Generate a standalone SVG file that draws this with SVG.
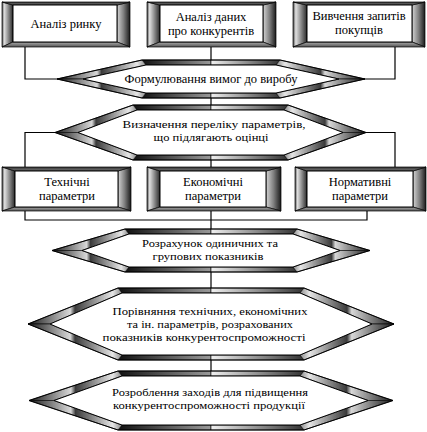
<svg xmlns="http://www.w3.org/2000/svg" width="427" height="432" viewBox="0 0 427 432">
<defs>
<linearGradient id="gBL" x1="0" y1="0" x2="1" y2="0"><stop offset="0" stop-color="#444"/><stop offset="0.2" stop-color="#e0e0e0"/><stop offset="1" stop-color="#2a2a2a"/></linearGradient>
<linearGradient id="gBR" x1="0" y1="0" x2="1" y2="0"><stop offset="0" stop-color="#d4d4d4"/><stop offset="0.5" stop-color="#808080"/><stop offset="1" stop-color="#1a1a1a"/></linearGradient>
<linearGradient id="gBT" x1="0" y1="0" x2="0" y2="1"><stop offset="0" stop-color="#333"/><stop offset="1" stop-color="#777"/></linearGradient>
<linearGradient id="gBB" x1="0" y1="0" x2="0" y2="1"><stop offset="0" stop-color="#aaa"/><stop offset="1" stop-color="#555"/></linearGradient>
<linearGradient id="gSL" x1="0" y1="0" x2="1" y2="0"><stop offset="0" stop-color="#1a1a1a"/><stop offset="0.45" stop-color="#d8d8d8"/><stop offset="0.5" stop-color="#3a3a3a"/><stop offset="0.9" stop-color="#e6e6e6"/><stop offset="1" stop-color="#888"/></linearGradient>
<linearGradient id="gSR" x1="0" y1="0" x2="1" y2="0"><stop offset="0" stop-color="#888"/><stop offset="0.1" stop-color="#e6e6e6"/><stop offset="0.5" stop-color="#3a3a3a"/><stop offset="0.55" stop-color="#d8d8d8"/><stop offset="1" stop-color="#1a1a1a"/></linearGradient>
<linearGradient id="gHL" x1="0" y1="0" x2="1" y2="0"><stop offset="0" stop-color="#111"/><stop offset="1" stop-color="#9a9a9a"/></linearGradient>
<linearGradient id="gHR" x1="0" y1="0" x2="1" y2="0"><stop offset="0" stop-color="#f0f0f0"/><stop offset="1" stop-color="#333"/></linearGradient>
</defs>
<style>
.bl{fill:url(#gBL);stroke:#000;stroke-width:0.7}
.br{fill:url(#gBR);stroke:#000;stroke-width:0.7}
.bt{fill:url(#gBT);stroke:#000;stroke-width:0.7}
.bb{fill:url(#gBB);stroke:#000;stroke-width:0.7}
.in{fill:#fff;stroke:#000;stroke-width:1}
.sl{fill:url(#gSL);stroke:#000;stroke-width:0.6}
.sr{fill:url(#gSR);stroke:#000;stroke-width:0.6}
.hl{fill:url(#gHL);stroke:#000;stroke-width:0.6}
.hr{fill:url(#gHR);stroke:#000;stroke-width:0.6}
.out{fill:none;stroke:#000;stroke-width:1}
.c{fill:none;stroke:#000;stroke-width:1.2}
.t{font-size:12.5px;fill:#000;text-anchor:middle}
.s{font-size:11px;fill:#000;text-anchor:middle}
</style>

<g id="connectors">
<path class="c" d="M25,47 V79 H57"/>
<path class="c" d="M211,47 V60"/>
<path class="c" d="M395,47 V79 H365"/>
<path class="c" d="M211,98 V105"/>
<path class="c" d="M55,132.5 H25 V167"/>
<path class="c" d="M366,132.5 H395 V167"/>
<path class="c" d="M211,160 V167"/>
<path class="c" d="M25,211 V220 H367 V211"/>
<path class="c" d="M211,211 V229"/>
<path class="c" d="M211,272 V288"/>
<path class="c" d="M211,360 V371"/>
</g>

<g font-family="'Liberation Serif', 'DejaVu Serif', serif">
<g id="box-market">
<polygon class="bl" points="2,2 13,5 13,42 2,47"/>
<polygon class="br" points="117,5 130,2 130,47 117,42"/>
<polygon class="bt" points="2,2 130,2 117,5 13,5"/>
<polygon class="bb" points="13,42 117,42 130,47 2,47"/>
<rect class="in" x="13" y="5" width="104" height="37"/>
<text class="t" x="66" y="28">Аналіз ринку</text>
</g>

<g id="box-competitors">
<polygon class="bl" points="147,2 160,5 160,42 147,47"/>
<polygon class="br" points="263,5 276,2 276,47 263,42"/>
<polygon class="bt" points="147,2 276,2 263,5 160,5"/>
<polygon class="bb" points="160,42 263,42 276,47 147,47"/>
<rect class="in" x="160" y="5" width="103" height="37"/>
<text class="t" x="211" y="21">Аналіз даних</text>
<text class="t" x="211" y="35">про конкурентів</text>
</g>

<g id="box-customers">
<polygon class="bl" points="293,2 307,5 307,42 293,47"/>
<polygon class="br" points="412,5 425,2 425,47 412,42"/>
<polygon class="bt" points="293,2 425,2 412,5 307,5"/>
<polygon class="bb" points="307,42 412,42 425,47 293,47"/>
<rect class="in" x="307" y="5" width="105" height="37"/>
<text class="t" x="359" y="20">Вивчення запитів</text>
<text class="t" x="359" y="34">покупців</text>
</g>

<g id="hex-requirements">
<polygon class="hl" points="142,60 211,60 211,65 146,65"/>
<polygon class="hr" points="211,60 280,60 276,65 211,65"/>
<polygon class="hl" points="146,93 211,93 211,98 142,98"/>
<polygon class="hr" points="211,93 276,93 280,98 211,98"/>
<polygon class="sl" points="57,79 142,60 146,65 83,79"/>
<polygon class="sl" points="57,79 83,79 146,93 142,98"/>
<polygon class="sr" points="280,60 365,79 339,79 276,65"/>
<polygon class="sr" points="339,79 365,79 280,98 276,93"/>
<polygon class="out" points="57,79 142,60 280,60 365,79 280,98 142,98"/>
<polygon class="in" points="83,79 146,65 276,65 339,79 276,93 146,93"/>
<text class="t" x="211" y="83">Формулювання вимог до виробу</text>
</g>

<g id="hex-parameters">
<polygon class="hl" points="133,105 211,105 211,110 137,110"/>
<polygon class="hr" points="211,105 288,105 284,110 211,110"/>
<polygon class="hl" points="137,155 211,155 211,160 133,160"/>
<polygon class="hr" points="211,155 284,155 288,160 211,160"/>
<polygon class="sl" points="55,132.5 133,105 137,110 78,132.5"/>
<polygon class="sl" points="55,132.5 78,132.5 137,155 133,160"/>
<polygon class="sr" points="288,105 366,132.5 343,132.5 284,110"/>
<polygon class="sr" points="343,132.5 366,132.5 288,160 284,155"/>
<polygon class="out" points="55,132.5 133,105 288,105 366,132.5 288,160 133,160"/>
<polygon class="in" points="78,132.5 137,110 284,110 343,132.5 284,155 137,155"/>
<text class="s" x="214" y="128" textLength="183" lengthAdjust="spacingAndGlyphs">Визначення переліку параметрів,</text>
<text class="s" x="211" y="141" textLength="115" lengthAdjust="spacingAndGlyphs">що підлягають оцінці</text>
</g>

<g id="box-technical">
<polygon class="bl" points="2,167 15,171 15,207 2,211"/>
<polygon class="br" points="118,171 131,167 131,211 118,207"/>
<polygon class="bt" points="2,167 131,167 118,171 15,171"/>
<polygon class="bb" points="15,207 118,207 131,211 2,211"/>
<rect class="in" x="15" y="171" width="103" height="36"/>
<text class="t" x="67" y="186">Технічні</text>
<text class="t" x="67" y="200">параметри</text>
</g>

<g id="box-economic">
<polygon class="bl" points="147,167 160,171 160,207 147,211"/>
<polygon class="br" points="266,171 281,167 281,211 266,207"/>
<polygon class="bt" points="147,167 281,167 266,171 160,171"/>
<polygon class="bb" points="160,207 266,207 281,211 147,211"/>
<rect class="in" x="160" y="171" width="106" height="36"/>
<text class="t" x="213" y="186">Економічні</text>
<text class="t" x="213" y="200">параметри</text>
</g>

<g id="box-normative">
<polygon class="bl" points="295,167 307,171 307,207 295,211"/>
<polygon class="br" points="413,171 426,167 426,211 413,207"/>
<polygon class="bt" points="295,167 426,167 413,171 307,171"/>
<polygon class="bb" points="307,207 413,207 426,211 295,211"/>
<rect class="in" x="307" y="171" width="106" height="36"/>
<text class="t" x="360" y="186">Нормативні</text>
<text class="t" x="360" y="200">параметри</text>
</g>

<g id="hex-calculation">
<polygon class="hl" points="125,229 211,229 211,234 129,234"/>
<polygon class="hr" points="211,229 297,229 293,234 211,234"/>
<polygon class="hl" points="129,267 211,267 211,272 125,272"/>
<polygon class="hr" points="211,267 293,267 297,272 211,272"/>
<polygon class="sl" points="52,250.5 125,229 129,234 82,250.5"/>
<polygon class="sl" points="52,250.5 82,250.5 129,267 125,272"/>
<polygon class="sr" points="297,229 370,250.5 340,250.5 293,234"/>
<polygon class="sr" points="340,250.5 370,250.5 297,272 293,267"/>
<polygon class="out" points="52,250.5 125,229 297,229 370,250.5 297,272 125,272"/>
<polygon class="in" points="82,250.5 129,234 293,234 340,250.5 293,267 129,267"/>
<text class="s" x="210" y="247" textLength="136" lengthAdjust="spacingAndGlyphs">Розрахунок одиничних та</text>
<text class="s" x="208" y="260" textLength="111" lengthAdjust="spacingAndGlyphs">групових показників</text>
</g>

<g id="hex-comparison">
<polygon class="hl" points="118,288 211,288 211,293 122,293"/>
<polygon class="hr" points="211,288 304,288 300,293 211,293"/>
<polygon class="hl" points="122,355 211,355 211,360 118,360"/>
<polygon class="hr" points="211,355 300,355 304,360 211,360"/>
<polygon class="sl" points="28,324 118,288 122,293 50,324"/>
<polygon class="sl" points="28,324 50,324 122,355 118,360"/>
<polygon class="sr" points="304,288 394,324 372,324 300,293"/>
<polygon class="sr" points="372,324 394,324 304,360 300,355"/>
<polygon class="out" points="28,324 118,288 304,288 394,324 304,360 118,360"/>
<polygon class="in" points="50,324 122,293 300,293 372,324 300,355 122,355"/>
<text class="s" x="210" y="315" textLength="195" lengthAdjust="spacingAndGlyphs">Порівняння технічних, економічних</text>
<text class="s" x="210" y="328" textLength="166" lengthAdjust="spacingAndGlyphs">та ін. параметрів, розрахованих</text>
<text class="s" x="204" y="341" textLength="203" lengthAdjust="spacingAndGlyphs">показників конкурентоспроможності</text>
</g>

<g id="hex-measures">
<polygon class="hl" points="118,371 211,371 211,376 122,376"/>
<polygon class="hr" points="211,371 304,371 300,376 211,376"/>
<polygon class="hl" points="122,425 211,425 211,430 118,430"/>
<polygon class="hr" points="211,425 300,425 304,430 211,430"/>
<polygon class="sl" points="29,400.5 118,371 122,376 54,400.5"/>
<polygon class="sl" points="29,400.5 54,400.5 122,425 118,430"/>
<polygon class="sr" points="304,371 393,400.5 368,400.5 300,376"/>
<polygon class="sr" points="368,400.5 393,400.5 304,430 300,425"/>
<polygon class="out" points="29,400.5 118,371 304,371 393,400.5 304,430 118,430"/>
<polygon class="in" points="54,400.5 122,376 300,376 368,400.5 300,425 122,425"/>
<text class="s" x="210" y="396" textLength="196" lengthAdjust="spacingAndGlyphs">Розроблення заходів для підвищення</text>
<text class="s" x="209" y="409" textLength="192" lengthAdjust="spacingAndGlyphs">конкурентоспроможності продукції</text>
</g>
</g>
</svg>
